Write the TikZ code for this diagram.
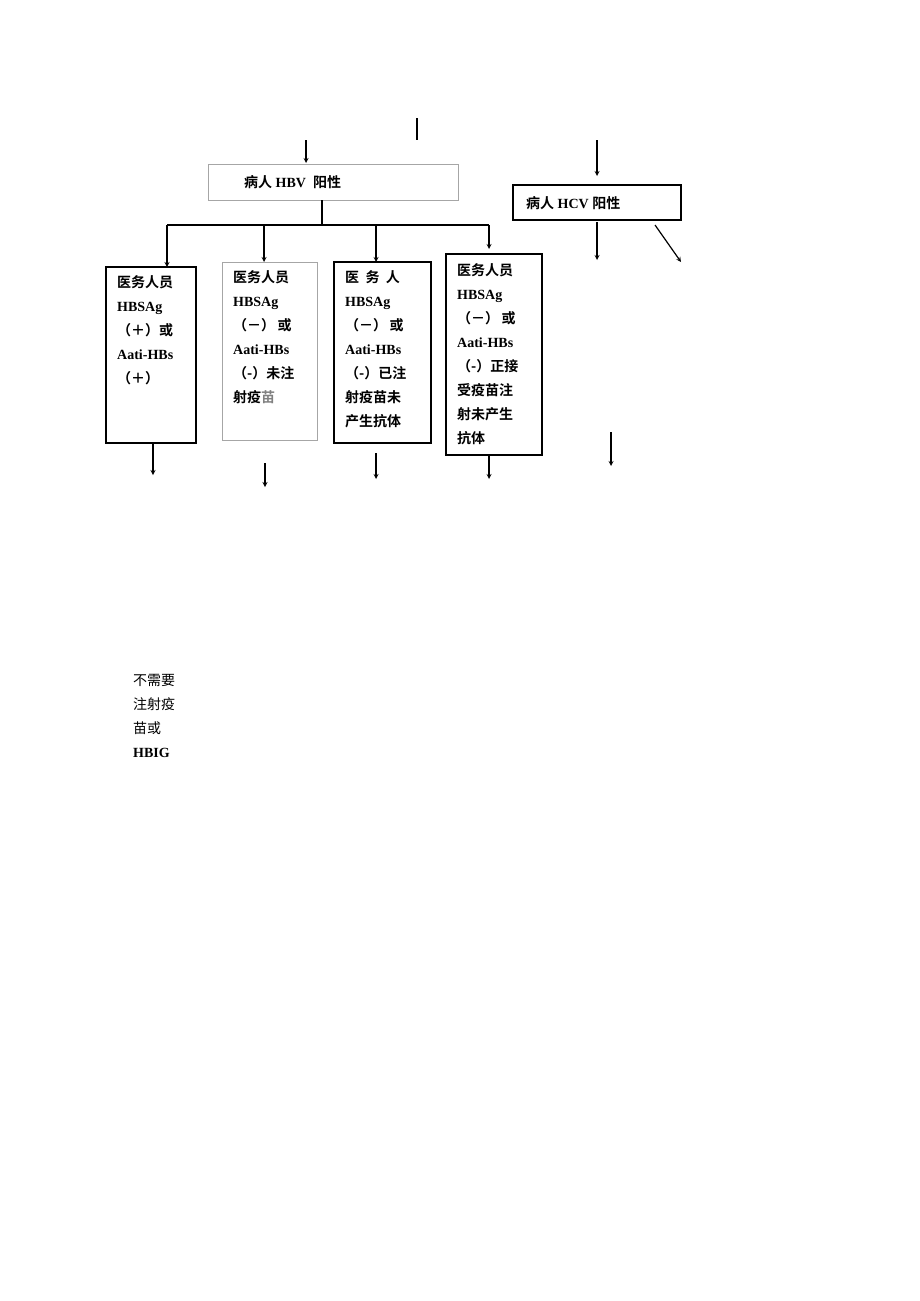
\documentclass[tikz,border=0pt]{standalone}
\usepackage{fontspec}
\setmainfont{Liberation Serif}
\newfontfamily\cjk{Noto Sans CJK SC}[BoldFont={Noto Sans CJK SC Bold}]
\newcommand{\zh}[1]{{\cjk #1}}
\begin{document}
\begin{tikzpicture}[x=1pt,y=-1pt,
  bx/.style={draw,line width=1.3pt},
  gbx/.style={draw=gray!70,line width=1pt},
  txt/.style={anchor=north west,align=left,font=\fontsize{14}{24}\selectfont\bfseries,inner sep=0pt},
  arr/.style={-stealth,line width=1.2pt}]
\useasboundingbox (0,0) rectangle (920,1301);
% top boxes
\draw[gbx] (208,164) rectangle (458,200);
\node[txt,anchor=west] (hbv) at (244,182) {\zh{病人} HBV\ \ \zh{阳性}};
\draw[bx] (513,185) rectangle (681,220);
\node[txt,anchor=west] (hcv) at (526,203) {\zh{病人} HCV \zh{阳性}};
\coordinate (t1) at (417,118); \coordinate (t2) at (417,140);
\draw[line width=1.2pt] (t1) -- (t2);
\coordinate (a1) at (306,140); \coordinate (a2) at (306,163);
\draw[arr] (a1) -- (a2);
\coordinate (c1) at (597,140); \coordinate (c2) at (597,176);
\draw[arr] (c1) -- (c2);
% branches
\draw[line width=1.2pt] (322,200) -- (322,225);
\draw[line width=1.2pt] (167,225) -- (489,225);
\draw[arr] (167,225) -- (167,267);
\draw[arr] (264,225) -- (264,262);
\draw[arr] (376,225) -- (376,262);
\draw[arr] (489,225) -- (489,249);
\draw[arr] (597,222) -- (597,260);
\draw[arr] (655,225) -- (681,262);
% boxes
\draw[bx] (106,267) rectangle (196,443);
\node[txt] (b1) at (117,275) {\zh{医务人员}\\HBSAg\\\zh{（＋）或}\\Aati-HBs\\\zh{（＋）}};
\draw[gbx] (222,262) rectangle (317,440);
\node[txt] (b2) at (233,270) {\zh{医务人员}\\HBSAg\\\zh{（－）\,或}\\Aati-HBs\\\zh{（-）未注}\\\zh{射疫{\color{gray}苗}}};
\draw[bx] (334,262) rectangle (431,443);
\node[txt] (b3) at (345,270) {\zh{医\ \ 务\ \ 人}\\HBSAg\\\zh{（－）\,或}\\Aati-HBs\\\zh{（-）已注}\\\zh{射疫苗未}\\\zh{产生抗体}};
\draw[bx] (446,254) rectangle (542,455);
\node[txt] (b4) at (457,263) {\zh{医务人员}\\HBSAg\\\zh{（－）\,或}\\Aati-HBs\\\zh{（-）正接}\\\zh{受疫苗注}\\\zh{射未产生}\\\zh{抗体}};
% lower arrows
\draw[arr] (153,443) -- (153,475);
\draw[arr] (265,463) -- (265,487);
\draw[arr] (376,453) -- (376,479);
\draw[arr] (489,455) -- (489,479);
\draw[arr] (611,432) -- (611,466);
% bottom text
\node[anchor=north west,align=left,inner sep=0pt,font=\fontsize{14}{24}\selectfont] (nt) at (133,674) {\zh{不需要}\\\zh{注射疫}\\\zh{苗或}\\\textbf{HBIG}};
\end{tikzpicture}
\end{document}
